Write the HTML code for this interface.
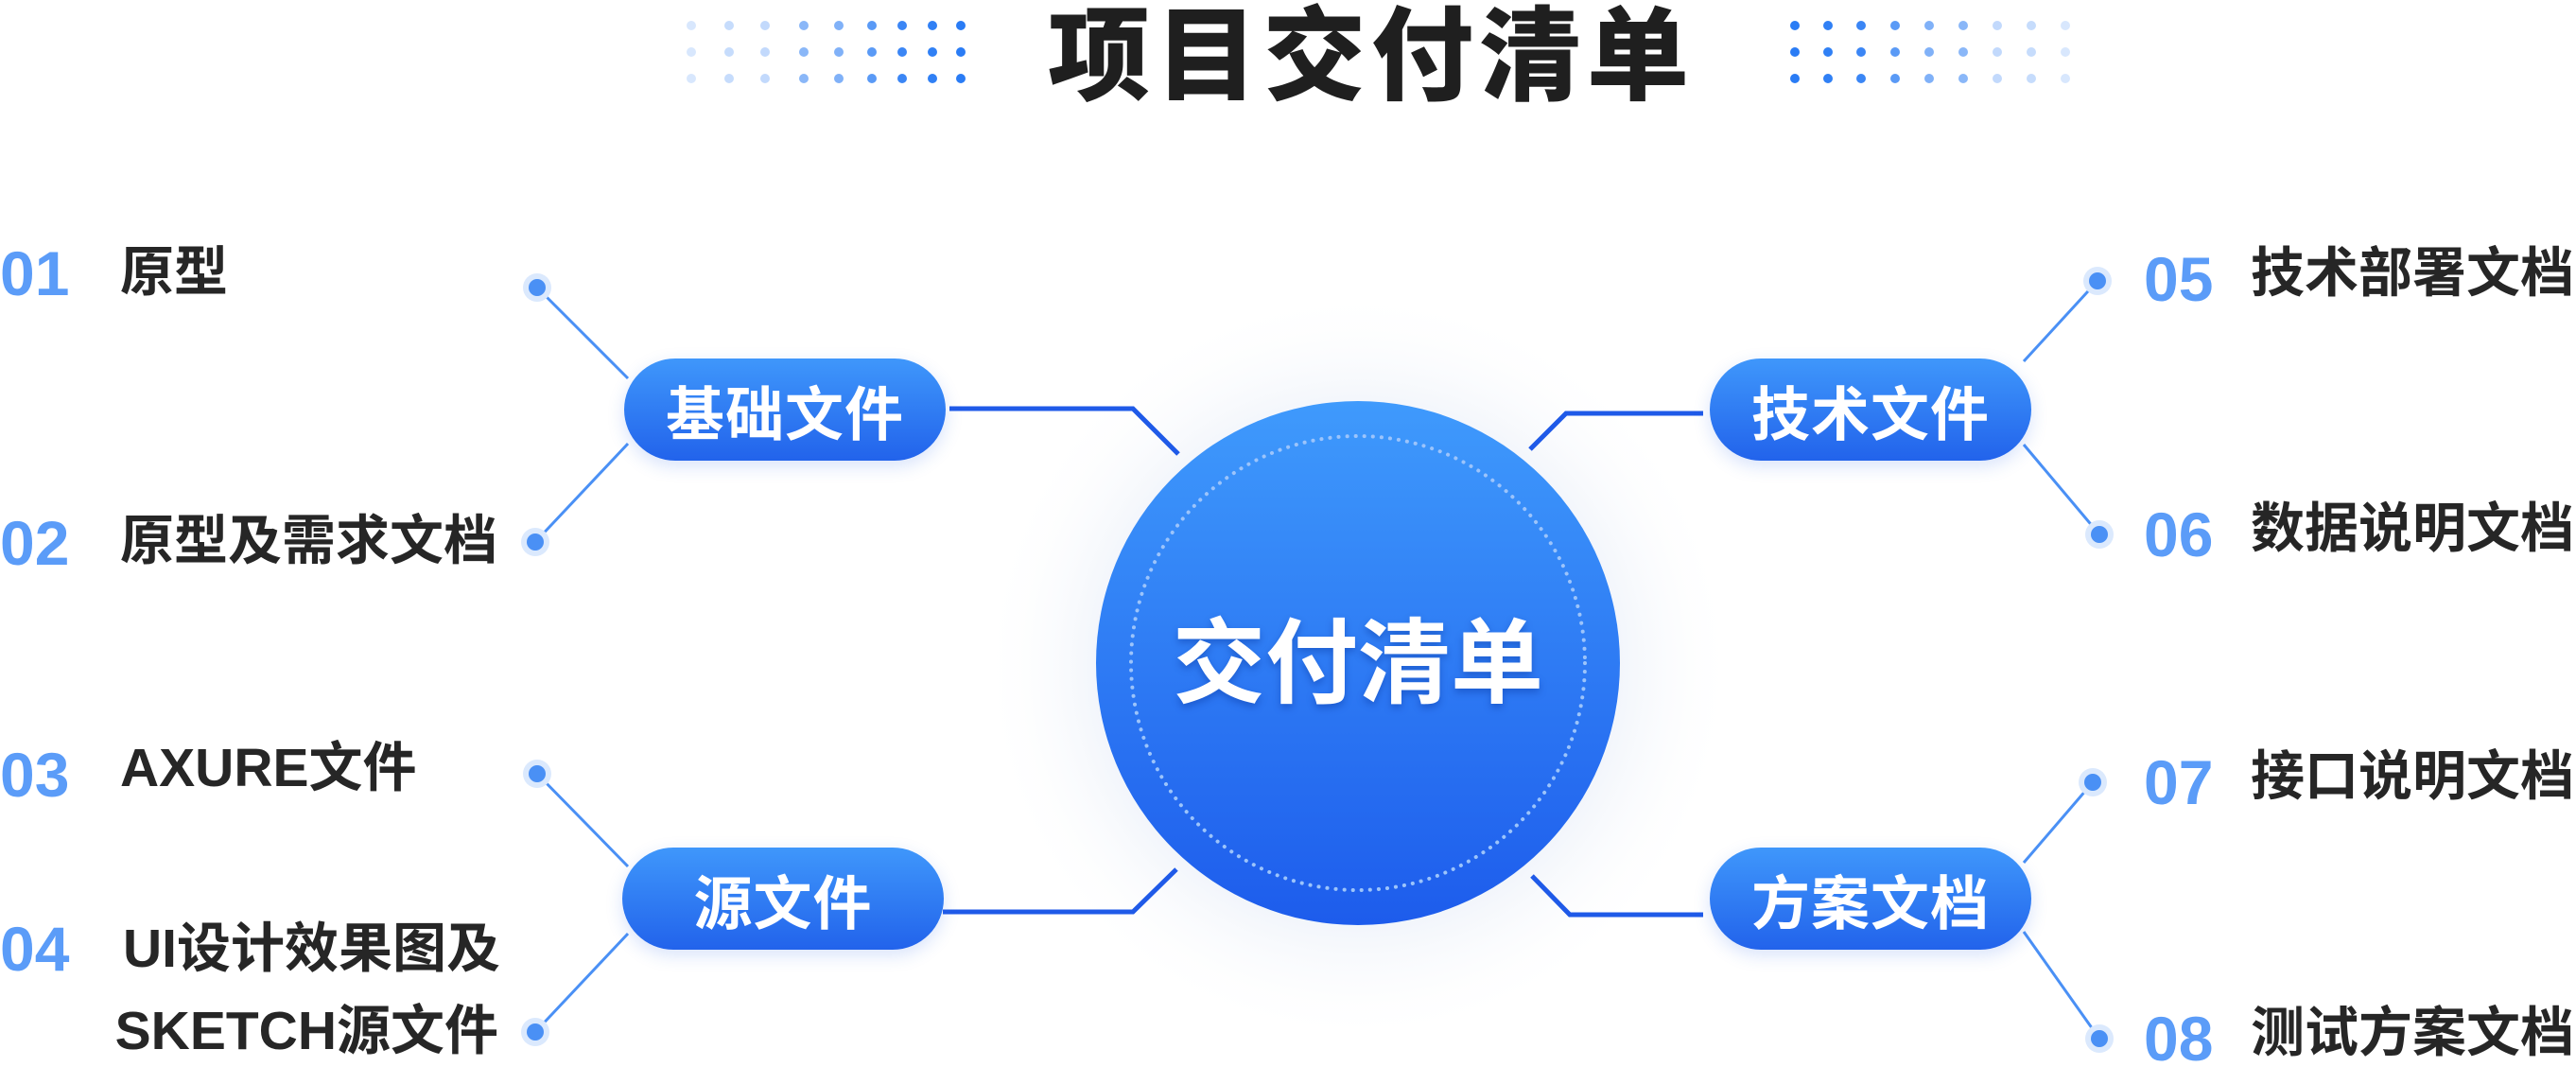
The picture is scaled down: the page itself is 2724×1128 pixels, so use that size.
<!DOCTYPE html>
<html><head><meta charset="utf-8"><style>
html,body{margin:0;padding:0;background:#fff;}
#c{position:relative;width:2724px;height:1128px;overflow:hidden;background:#fff;font-family:"Liberation Sans","Noto Sans CJK SC",sans-serif;}
.t{position:absolute;white-space:nowrap;line-height:1;}
.n{color:#5b9cf8;font-weight:bold;font-size:66px;}
.l{color:#262626;font-size:57px;font-family:"Liberation Sans","Noto Sans CJK SC",sans-serif;font-weight:600;}
.pill{position:absolute;width:340px;height:108px;border-radius:54px;background:linear-gradient(180deg,#3f97fb,#2263eb);color:#fff;font-weight:bold;font-size:62px;display:flex;align-items:center;justify-content:center;box-shadow:0 6px 18px rgba(40,100,235,0.18);letter-spacing:1px;}
</style></head><body><div id="c">
<svg width="2724" height="1128" style="position:absolute;left:0;top:0">
<defs>
<radialGradient id="glow" cx="50%" cy="50%" r="50%"><stop offset="0.6" stop-color="#e8eef8" stop-opacity="0.9"/><stop offset="1" stop-color="#ffffff" stop-opacity="0"/></radialGradient>
<linearGradient id="cg" x1="0" y1="0" x2="0" y2="1"><stop offset="0" stop-color="#3f9afc"/><stop offset="1" stop-color="#1d5cec"/></linearGradient>
</defs>
<circle cx="1436" cy="705" r="400" fill="url(#glow)"/>
<circle cx="1436" cy="701" r="277" fill="url(#cg)"/>
<circle cx="1436" cy="701" r="240" fill="none" stroke="#9cc4fb" stroke-width="4" stroke-dasharray="0.1 9" stroke-linecap="round"/>
<g stroke="#1f5ae8" stroke-width="5" fill="none">
<polyline points="1004,432 1198,432 1246,480"/>
<polyline points="1801,437 1656,437 1618,475"/>
<polyline points="997,964 1198,964 1244,919"/>
<polyline points="1801,967 1660,967 1620,926"/>
</g>
<g stroke="#4a90f5" stroke-width="3" fill="none">
<line x1="568" y1="304" x2="664" y2="400"/>
<line x1="664" y1="469" x2="566" y2="573"/>
<line x1="568" y1="818" x2="664" y2="916"/>
<line x1="664" y1="987" x2="566" y2="1091"/>
<line x1="2218" y1="297" x2="2140" y2="382"/>
<line x1="2140" y1="470" x2="2220" y2="565"/>
<line x1="2213" y1="827" x2="2140" y2="912"/>
<line x1="2140" y1="985" x2="2220" y2="1098"/>
</g>
<g fill="#dbe9fd">
<circle cx="568" cy="304" r="15"/><circle cx="566" cy="573" r="15"/><circle cx="568" cy="818" r="15"/><circle cx="566" cy="1091" r="15"/>
<circle cx="2218" cy="297" r="15"/><circle cx="2220" cy="565" r="15"/><circle cx="2213" cy="827" r="15"/><circle cx="2220" cy="1098" r="15"/>
</g>
<g fill="#4a90f5">
<circle cx="568" cy="304" r="9"/><circle cx="566" cy="573" r="9"/><circle cx="568" cy="818" r="9"/><circle cx="566" cy="1091" r="9"/>
<circle cx="2218" cy="297" r="9"/><circle cx="2220" cy="565" r="9"/><circle cx="2213" cy="827" r="9"/><circle cx="2220" cy="1098" r="9"/>
</g>
</svg>
<svg width="2724" height="120" style="position:absolute;left:0;top:0">
<g fill="#d8e7fd"><circle cx="731" cy="27" r="5"/><circle cx="731" cy="55" r="5"/><circle cx="731" cy="83" r="5"/></g>
<g fill="#c6dcfc"><circle cx="771" cy="27" r="5"/><circle cx="771" cy="55" r="5"/><circle cx="771" cy="83" r="5"/></g>
<g fill="#c2d9fc"><circle cx="809" cy="27" r="5"/><circle cx="809" cy="55" r="5"/><circle cx="809" cy="83" r="5"/></g>
<g fill="#8ab7f8"><circle cx="850" cy="27" r="5"/><circle cx="850" cy="55" r="5"/><circle cx="850" cy="83" r="5"/></g>
<g fill="#80b1f8"><circle cx="887" cy="27" r="5"/><circle cx="887" cy="55" r="5"/><circle cx="887" cy="83" r="5"/></g>
<g fill="#5a9af6"><circle cx="922" cy="27" r="5"/><circle cx="922" cy="55" r="5"/><circle cx="922" cy="83" r="5"/></g>
<g fill="#3b86f5"><circle cx="954" cy="27" r="5"/><circle cx="954" cy="55" r="5"/><circle cx="954" cy="83" r="5"/></g>
<g fill="#3080f5"><circle cx="986" cy="27" r="5"/><circle cx="986" cy="55" r="5"/><circle cx="986" cy="83" r="5"/></g>
<g fill="#2a7cf5"><circle cx="1016" cy="27" r="5"/><circle cx="1016" cy="55" r="5"/><circle cx="1016" cy="83" r="5"/></g>
<g fill="#2a7cf5"><circle cx="1898" cy="27" r="5"/><circle cx="1898" cy="55" r="5"/><circle cx="1898" cy="83" r="5"/></g>
<g fill="#3080f5"><circle cx="1933" cy="27" r="5"/><circle cx="1933" cy="55" r="5"/><circle cx="1933" cy="83" r="5"/></g>
<g fill="#3b86f5"><circle cx="1968" cy="27" r="5"/><circle cx="1968" cy="55" r="5"/><circle cx="1968" cy="83" r="5"/></g>
<g fill="#5a9af6"><circle cx="2004" cy="27" r="5"/><circle cx="2004" cy="55" r="5"/><circle cx="2004" cy="83" r="5"/></g>
<g fill="#80b1f8"><circle cx="2040" cy="27" r="5"/><circle cx="2040" cy="55" r="5"/><circle cx="2040" cy="83" r="5"/></g>
<g fill="#8ab7f8"><circle cx="2076" cy="27" r="5"/><circle cx="2076" cy="55" r="5"/><circle cx="2076" cy="83" r="5"/></g>
<g fill="#c2d9fc"><circle cx="2112" cy="27" r="5"/><circle cx="2112" cy="55" r="5"/><circle cx="2112" cy="83" r="5"/></g>
<g fill="#c6dcfc"><circle cx="2148" cy="27" r="5"/><circle cx="2148" cy="55" r="5"/><circle cx="2148" cy="83" r="5"/></g>
<g fill="#d8e7fd"><circle cx="2184" cy="27" r="5"/><circle cx="2184" cy="55" r="5"/><circle cx="2184" cy="83" r="5"/></g>
</svg>

<div class="t" style="left:1100px;top:6px;width:700px;text-align:center;font-size:108px;font-weight:900;color:#1f1f1f;letter-spacing:6px;">项目交付清单</div>

<div class="t" style="left:1160px;top:652px;width:552px;text-align:center;font-size:98px;font-weight:bold;color:#fff;text-shadow:0 4px 8px rgba(0,40,140,0.35);">交付清单</div>

<div class="pill" style="left:660px;top:379px;">基础文件</div>
<div class="pill" style="left:1808px;top:379px;">技术文件</div>
<div class="pill" style="left:658px;top:896px;">源文件</div>
<div class="pill" style="left:1808px;top:896px;">方案文档</div>

<div class="t n" style="left:0;top:256px;">01</div>
<div class="t l" style="left:127px;top:260px;">原型</div>
<div class="t n" style="left:0;top:541px;">02</div>
<div class="t l" style="left:127px;top:544px;">原型及需求文档</div>
<div class="t n" style="left:0;top:786px;">03</div>
<div class="t l" style="left:127px;top:784px;">AXURE文件</div>
<div class="t n" style="left:0;top:970px;">04</div>
<div class="t l" style="left:130px;top:975px;">UI设计效果图及</div>
<div class="t l" style="left:0;width:527px;text-align:right;top:1062px;">SKETCH源文件</div>

<div class="t n" style="left:2267px;top:262px;">05</div>
<div class="t l" style="left:2380px;top:261px;">技术部署文档</div>
<div class="t n" style="left:2267px;top:532px;">06</div>
<div class="t l" style="left:2380px;top:531px;">数据说明文档</div>
<div class="t n" style="left:2267px;top:794px;">07</div>
<div class="t l" style="left:2380px;top:793px;">接口说明文档</div>
<div class="t n" style="left:2267px;top:1065px;">08</div>
<div class="t l" style="left:2380px;top:1064px;">测试方案文档</div>
</div></body></html>
